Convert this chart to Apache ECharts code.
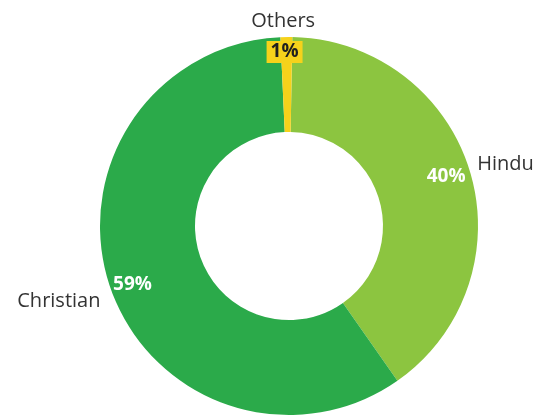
<!DOCTYPE html>
<html>
<head>
<meta charset="utf-8">
<script src="https://cdn.jsdelivr.net/npm/echarts@6/dist/echarts.min.js"></script>
<style>
  html, body { margin: 0; padding: 0; background: #ffffff; }
  #chart { width: 540px; height: 416px; }
</style>
</head>
<body>
<div id="chart"></div>
<script>
// Religion shares, in percent, drawn clockwise from the top
const categories = ['Hindu', 'Christian', 'Others'];
const shares = [40, 59, 1];
const sliceColors = ['#8cc540', '#2baa4a', '#f6d21b'];

const CENTER = [289, 226];
const START = 89;
const FONT = '"Open Sans", "DejaVu Sans", sans-serif';

const chart = echarts.init(document.getElementById('chart'));

// A transparent ring, centred (dx, dy) away from the donut, whose only visible
// part is the label of one slice, placed at the ring's mid-radius
function labelRing(name, inner, outer, dx, dy, formatter, style) {
  return {
    type: 'pie',
    center: [CENTER[0] + dx, CENTER[1] + dy],
    radius: [inner, outer],
    startAngle: START,
    clockwise: true,
    silent: true,
    animation: false,
    emphasis: { disabled: true },
    itemStyle: { color: 'rgba(0,0,0,0)', borderWidth: 0 },
    labelLine: { show: false },
    label: Object.assign({
      position: 'inside',
      formatter: formatter,
      fontFamily: FONT
    }, style),
    data: categories.map((c, i) => ({
      name: c,
      value: shares[i],
      label: { show: c === name }
    }))
  };
}

const pctFmt = p => p.value + '%';
const nameFmt = p => p.name;
const pctStyle = { color: '#ffffff', fontSize: 19, fontWeight: 'bold' };
const tagStyle = { color: '#1f1f1f', fontSize: 19, fontWeight: 'bold',
                   backgroundColor: '#f6d21b', padding: [0, 4], lineHeight: 22 };
const nameStyle = { color: '#333333', fontSize: 20 };

chart.setOption({
  backgroundColor: '#ffffff',
  series: [
    {
      type: 'pie',
      center: CENTER,
      radius: [94, 189],
      startAngle: START,
      clockwise: true,
      silent: true,
      animation: false,
      emphasis: { disabled: true },
      label: { show: false },
      labelLine: { show: false },
      itemStyle: { borderWidth: 0 },
      data: categories.map((name, i) => ({
        name: name,
        value: shares[i],
        itemStyle: { color: sliceColors[i] }
      }))
    },
    // values
    labelRing('Hindu', 150, 181, -4, 0, pctFmt, pctStyle),
    labelRing('Christian', 150, 181, 3, 4, pctFmt, pctStyle),
    labelRing('Others', 160, 182, -2, 0, pctFmt, tagStyle),
    // category names
    labelRing('Hindu', 212, 239, -2, 5, nameFmt, nameStyle),
    labelRing('Christian', 224, 252, -2, -2.5, nameFmt, nameStyle),
    labelRing('Others', 190, 214, -3, 0, nameFmt, nameStyle)
  ]
});
</script>
</body>
</html>
